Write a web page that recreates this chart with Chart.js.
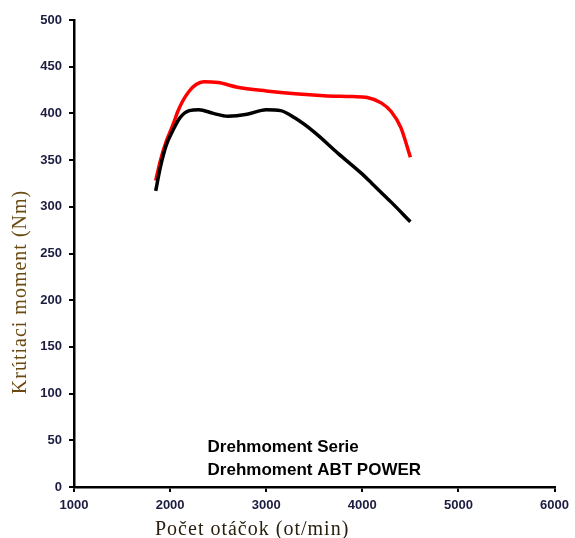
<!DOCTYPE html>
<html>
<head>
<meta charset="utf-8">
<script src="https://cdn.jsdelivr.net/npm/chart.js@4"></script>
<style>
html,body{margin:0;padding:0;background:#fff;}
#wrap{width:575px;height:538px;}
</style>
</head>
<body>
<div id="wrap"><canvas id="c" width="575" height="538"></canvas></div>
<script>
const seriesNames = ["Drehmoment Serie", "Drehmoment ABT POWER"];
const rpmSerie = [1850, 1900, 1960, 2030, 2100, 2200, 2300, 2450, 2600, 2800, 3000, 3150, 3300, 3500, 3750, 4000, 4100, 4300, 4500];
const torqueSerie = [317, 343, 366, 382, 395, 403, 404, 400, 397, 399, 404, 403, 395, 380, 357, 335, 325, 305, 284];
const rpmAbt = [1850, 1900, 1960, 2030, 2080, 2130, 2200, 2270, 2350, 2500, 2700, 3000, 3300, 3600, 3900, 4050, 4200, 4300, 4400, 4500];
const torqueAbt = [328, 350, 370, 388, 402, 413, 424, 431, 434, 433, 428, 424, 421, 419, 418, 417, 411, 402, 385, 353];
const xTitle = "Počet otáčok (ot/min)";
const yTitle = "Krútiaci moment (Nm)";

const toXY = (xs, ys) => xs.map((x, i) => ({x: x, y: ys[i]}));

const textPlugin = {
  id: 'texts',
  afterDraw(chart) {
    const ctx = chart.ctx;
    const ca = chart.chartArea;
    ctx.save();
    ctx.font = 'bold 17px "Liberation Sans", Arial, sans-serif';
    ctx.fillStyle = '#000';
    ctx.textAlign = 'left';
    ctx.textBaseline = 'alphabetic';
    const lx = chart.scales.x.getPixelForValue(2390);
    ctx.fillText(seriesNames[0], lx, ca.bottom - 35);
    ctx.fillText(seriesNames[1], lx, ca.bottom - 12);
    ctx.font = '20px "Liberation Serif", "Times New Roman", serif';
    try { ctx.letterSpacing = '1px'; } catch(e) {}
    ctx.fillStyle = '#2a2010';
    ctx.fillText(xTitle, 155, 535);
    ctx.translate(26, 292);
    ctx.rotate(-Math.PI / 2);
    ctx.textAlign = 'center';
    ctx.fillStyle = '#6a4a12';
    ctx.fillText(yTitle, 0, 0);
    ctx.restore();
  }
};

const tickFont = {family: '"Liberation Sans", Arial, sans-serif', size: 13, weight: 'bold'};

new Chart(document.getElementById('c'), {
  type: 'line',
  data: {
    datasets: [
      {label: seriesNames[0], data: toXY(rpmSerie, torqueSerie), borderColor: '#000', borderWidth: 3.5, pointRadius: 0, cubicInterpolationMode: 'monotone', fill: false},
      {label: seriesNames[1], data: toXY(rpmAbt, torqueAbt), borderColor: '#ff0000', borderWidth: 3.5, pointRadius: 0, cubicInterpolationMode: 'monotone', fill: false}
    ]
  },
  options: {
    responsive: false,
    animation: false,
    layout: {padding: {top: 20, right: 16, left: 0, bottom: 0}},
    plugins: {legend: {display: false}, tooltip: {enabled: false}},
    scales: {
      x: {
        type: 'linear', min: 1000, max: 6000,
        ticks: {stepSize: 1000, padding: 6, color: '#1c1c40', font: tickFont, maxRotation: 0, callback: v => String(v)},
        grid: {display: true, drawOnChartArea: false, drawTicks: true, tickLength: 5, color: '#000', lineWidth: 2},
        border: {display: true, color: '#000', width: 2.5},
        afterFit(s) { s.height = 51; }
      },
      y: {
        min: 0, max: 500,
        ticks: {stepSize: 50, padding: 7, color: '#1c1c40', font: tickFont, callback: v => String(v)},
        grid: {display: true, drawOnChartArea: false, drawTicks: true, tickLength: 5, color: '#000', lineWidth: 2},
        border: {display: true, color: '#000', width: 2.5},
        afterFit(s) { s.width = 74; }
      }
    }
  },
  plugins: [textPlugin]
});
</script>
</body>
</html>
